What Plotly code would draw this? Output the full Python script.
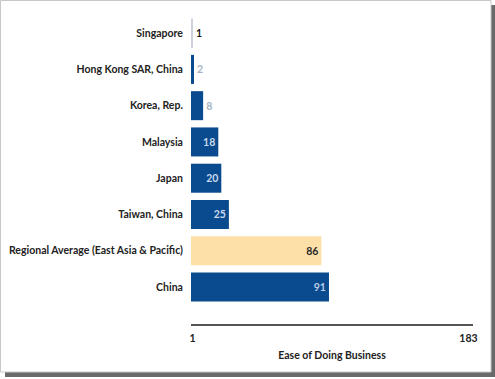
import plotly.graph_objects as go

categories = ["Singapore", "Hong Kong SAR, China", "Korea, Rep.", "Malaysia", "Japan",
              "Taiwan, China", "Regional Average (East Asia & Pacific)", "China"]
ranks = [1, 2, 8, 18, 20, 25, 86, 91]
tick_values = [1, 183]
tick_labels = ["1", "183"]
axis_title = "Ease of Doing Business"

BLUE = "#0a4a8e"
PEACH = "#fde0a8"
bar_colors = ["#cdd2da", BLUE, BLUE, BLUE, BLUE, BLUE, PEACH, BLUE]
text_pos = ["outside", "outside", "outside", "inside", "inside", "inside", "inside", "inside"]
text_colors = ["#1a1a1a", "#a8b3c6", "#a8b3c6", "#c9d8ec", "#c9d8ec", "#c9d8ec", "#2a2a2a", "#b9cce6"]

FONT = "Lato"
FS = 10.5
W, H = 495, 379
L, R, T, B = 191, 22, 15, 55
pw, ph = W - L - R, H - T - B

def px(x):
    return (x - L) / pw

def py(y):
    return (H - B - y) / ph

fig = go.Figure(go.Bar(
    x=ranks, y=categories, orientation="h",
    marker=dict(color=bar_colors, line=dict(width=0)),
    width=0.8,
    text=[str(v) for v in ranks],
    textposition=text_pos,
    insidetextanchor="end",
    textfont=dict(family=FONT, size=FS, color=text_colors, weight="bold"),
    cliponaxis=False,
    constraintext="none",
))

shapes = [
    # shadow
    dict(type="rect", xref="paper", yref="paper", x0=px(5), x1=px(495), y0=py(377), y1=py(5),
         fillcolor="#6a6a6a", line=dict(width=0), layer="below"),
    # frame
    dict(type="rect", xref="paper", yref="paper", x0=px(0.5), x1=px(491), y0=py(372), y1=py(0.5),
         fillcolor="white", line=dict(color="#c8c8c8", width=1), layer="below"),
]

fig.update_layout(
    width=W, height=H,
    margin=dict(l=L, r=R, t=T, b=B, autoexpand=False),
    paper_bgcolor="white",
    plot_bgcolor="rgba(0,0,0,0)",
    showlegend=False,
    bargap=0.2,
    shapes=shapes,
    font=dict(family=FONT, size=FS, color="#222"),
    xaxis=dict(
        range=[0, 186], tickvals=tick_values, ticktext=tick_labels,
        showgrid=False, zeroline=False, showline=True, linecolor="#555", linewidth=1.5,
        ticks="outside", ticklen=4, tickcolor="rgba(0,0,0,0)",
        tickfont=dict(family=FONT, size=FS, color="#222", weight="bold"),
        title=dict(text=axis_title, font=dict(family=FONT, size=FS, color="#222", weight="bold"), standoff=8),
        fixedrange=True, automargin=False,
    ),
    yaxis=dict(
        type="category", categoryorder="array", categoryarray=categories,
        range=[8.02, -0.5], showgrid=False, zeroline=False, showline=False,
        ticks="outside", ticklen=5, tickcolor="rgba(0,0,0,0)",
        tickfont=dict(family=FONT, size=FS, color="#222", weight="bold"),
        fixedrange=True, automargin=False,
    ),
)

fig.write_html("out.html", config={"displayModeBar": False},
               post_script="document.body.style.margin='0';")
